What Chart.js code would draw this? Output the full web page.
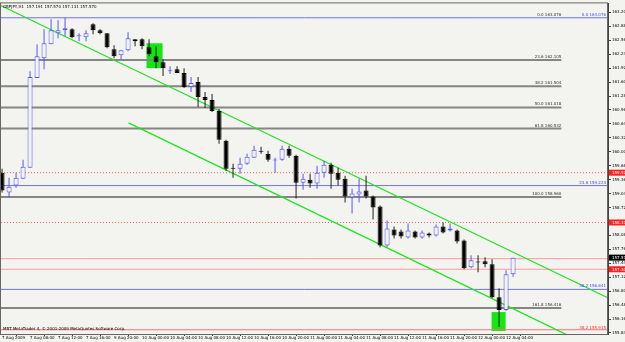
<!DOCTYPE html>
<html>
<head>
<meta charset="utf-8">
<script src="https://cdn.jsdelivr.net/npm/chart.js@4.4.0/dist/chart.umd.min.js"></script>
<style>
  html, body { margin: 0; padding: 0; background: #f3f3ef; }
  canvas { display: block; }
</style>
</head>
<body>
<canvas id="myChart" width="625" height="342"></canvas>
<script>
// GBPJPY H1 candles, one per hour
const opens = [159.520, 159.063, 159.223, 159.383, 159.634, 161.691, 162.149, 162.469, 162.720, 162.789,
  162.811, 162.651, 162.629, 162.926, 162.789, 162.720, 162.354, 162.217, 162.331, 162.583,
  162.583, 162.400, 162.194, 162.057, 161.851, 161.897, 161.806, 161.486, 161.600, 161.257,
  161.189, 160.937, 160.251, 159.634, 159.611, 159.726, 159.863, 160.023, 159.954, 159.800,
  159.817, 160.069, 159.909, 159.291, 159.360, 159.269, 159.520, 159.703, 159.520, 159.383,
  158.949, 159.017, 159.109, 158.971, 158.743, 157.851, 158.217, 158.171, 158.034, 158.171,
  158.034, 158.126, 158.080, 158.286, 158.194, 158.194, 157.966, 157.349, 157.470, 157.486,
  157.417, 156.663, 156.366, 157.191];
const highs = [159.611, 159.406, 159.520, 159.817, 161.851, 162.469, 162.811, 163.040, 163.017, 163.076,
  162.834, 162.720, 162.789, 162.949, 162.811, 162.720, 162.446, 162.331, 162.743, 162.583,
  162.606, 162.583, 162.423, 162.126, 161.966, 161.966, 161.920, 161.714, 161.714, 161.371,
  161.326, 160.983, 160.274, 159.726, 159.863, 159.954, 160.137, 160.114, 160.023, 159.863,
  160.137, 160.137, 159.931, 159.497, 159.497, 159.680, 159.794, 159.749, 159.634, 159.451,
  159.154, 159.383, 159.451, 158.994, 158.766, 158.423, 158.286, 158.217, 158.354, 158.194,
  158.194, 158.149, 158.331, 158.377, 158.354, 158.217, 157.989, 157.623, 157.623, 157.577,
  157.531, 156.869, 157.280, 157.570];
const lows = [159.063, 158.949, 159.177, 159.383, 159.634, 161.691, 161.897, 162.469, 162.606, 162.651,
  162.606, 162.537, 162.537, 162.697, 162.697, 162.377, 162.149, 162.126, 162.309, 162.423,
  162.354, 162.194, 161.920, 161.737, 161.783, 161.806, 161.463, 161.371, 161.029, 161.006,
  160.914, 160.183, 159.566, 159.406, 159.497, 159.703, 159.863, 159.954, 159.771, 159.520,
  159.794, 159.863, 158.926, 159.131, 159.177, 159.154, 159.406, 159.154, 159.223, 158.834,
  158.583, 158.834, 158.926, 158.446, 157.806, 157.806, 158.011, 158.011, 158.011, 158.011,
  158.011, 158.034, 158.057, 158.126, 158.171, 157.897, 157.303, 157.326, 157.234, 157.349,
  156.640, 155.977, 156.343, 157.131];
const closes = [159.109, 159.200, 159.406, 159.657, 161.714, 162.194, 162.491, 162.789, 162.789, 162.834,
  162.629, 162.674, 162.720, 162.789, 162.720, 162.400, 162.194, 162.331, 162.606, 162.537,
  162.423, 162.240, 162.057, 161.920, 161.874, 161.806, 161.486, 161.577, 161.257, 161.189,
  160.937, 160.274, 159.611, 159.611, 159.726, 159.886, 160.046, 160.000, 159.817, 159.817,
  160.069, 159.909, 159.291, 159.383, 159.269, 159.520, 159.703, 159.497, 159.360, 158.971,
  159.040, 159.086, 158.971, 158.720, 157.851, 158.240, 158.080, 158.057, 158.194, 158.034,
  158.149, 158.080, 158.286, 158.149, 158.240, 157.943, 157.326, 157.509, 157.458, 157.417,
  156.663, 156.366, 157.189, 157.570];

const timeTickBars = [0, 4, 8, 12, 16, 20, 24, 28, 32, 36, 40, 44, 48, 52, 56, 60, 64, 68, 72];
const timeLabels = ['7 Aug 2009', '7 Aug 08:00', '7 Aug 12:00', '7 Aug 16:00', '9 Aug 20:00',
  '10 Aug 00:00', '10 Aug 04:00', '10 Aug 08:00', '10 Aug 12:00', '10 Aug 16:00', '10 Aug 20:00',
  '11 Aug 00:00', '11 Aug 04:00', '11 Aug 08:00', '11 Aug 12:00', '11 Aug 16:00', '11 Aug 20:00',
  '12 Aug 00:00', '12 Aug 04:00'];
const priceTicks = [163.200, 162.880, 162.560, 162.240, 161.920, 161.600, 161.280, 160.960,
  160.640, 160.320, 160.000, 159.680, 159.360, 159.040, 158.720, 158.400, 158.080, 157.760,
  157.440, 157.120, 156.800, 156.480, 156.160, 155.840];

// fibonacci levels
const fibNames = ['0.0', '23.6', '38.2', '50.0', '61.8', '100.0', '161.8'];
const fibLevels = [163.076, 162.105, 161.504, 161.018, 160.532, 158.960, 156.416];
const fibEndBar = 79.9;
const blueFibNames = ['0.0', '23.6', '38.2'];
const blueFibLevels = [163.076, 159.224, 156.841];
const redFibName = '38.2';
const redFibLevel = 155.915;

const dottedLevels = [159.520, 158.377];
const pinkLevels = [157.546, 157.303];

// channel lines: [bar, price]
const upperChannel = [[-0.21, 163.36], [86.64, 156.64]];
const lowerChannel = [[18.07, 160.663], [86.64, 155.337]];

// highlighted zones: [fromBar, toBar, topPrice, bottomPrice]
const zones = [[20.64, 22.93, 162.491, 161.920], [69.93, 71.93, 156.320, 155.886]];

const bgColor = '#f3f3ef';
const bullColor = '#5656ff';
const bearColor = '#000000';
const fontFamily = '"DejaVu Sans", sans-serif';
const fontSize = 4;
const xMin = -0.15, xMax = 86.56;

const isBull = opens.map((o, i) => closes[i] >= o);

const flatLine = (price, from, to, color, width, dash) => ({
    type: 'line',
    data: [{ x: from, y: price }, { x: to, y: price }],
    borderColor: color,
    borderWidth: width,
    borderDash: dash || [],
    pointRadius: 0,
    order: 5,
});

const datasets = [
    {
        label: 'bodies',
        data: opens.map((o, i) => ({ x: i, y: [o, closes[i]] })),
        backgroundColor: isBull.map(b => b ? bgColor : bearColor),
        borderColor: isBull.map(b => b ? bullColor : bearColor),
        borderWidth: 1,
        borderSkipped: false,
        maxBarThickness: 5,
        minBarLength: 1,
        grouped: false,
        order: 0,
    },
    {
        label: 'wicks',
        data: lows.map((l, i) => ({ x: i, y: [l, highs[i]] })),
        backgroundColor: isBull.map(b => b ? bullColor : '#202020'),
        borderWidth: 0,
        maxBarThickness: 1,
        grouped: false,
        order: 1,
    },
    {
        type: 'line',
        data: upperChannel.map(p => ({ x: p[0], y: p[1] })),
        borderColor: '#1ee41e', borderWidth: 1.3, pointRadius: 0, order: 3,
    },
    {
        type: 'line',
        data: lowerChannel.map(p => ({ x: p[0], y: p[1] })),
        borderColor: '#1ee41e', borderWidth: 1.3, pointRadius: 0, order: 3,
    },
];
fibLevels.slice(1).forEach(v => datasets.push(flatLine(v, xMin, fibEndBar, '#858585', 2)));
blueFibLevels.forEach(v => datasets.push(flatLine(v, xMin, xMax, '#7070ff', 1)));
datasets.push(flatLine(redFibLevel, xMin, xMax, '#ff7070', 1));
dottedLevels.forEach(v => datasets.push(flatLine(v, xMin, xMax, '#ff6060', 1, [1, 2])));
pinkLevels.forEach(v => datasets.push(flatLine(v, xMin, xMax, '#ff9a9a', 1)));

const overlay = {
    id: 'overlay',
    beforeDraw(chart) {
        const { ctx, width, height } = chart;
        ctx.save();
        ctx.fillStyle = bgColor;
        ctx.fillRect(0, 0, width, height);
        ctx.restore();
    },
    beforeDatasetsDraw(chart) {
        const { ctx, chartArea: a, scales: { x, y } } = chart;
        ctx.save();
        ctx.beginPath();
        ctx.rect(a.left, a.top, a.width, a.height);
        ctx.clip();
        ctx.fillStyle = '#14e614';
        zones.forEach(z => {
            const x0 = x.getPixelForValue(z[0]), x1 = x.getPixelForValue(z[1]);
            const y0 = y.getPixelForValue(z[2]), y1 = y.getPixelForValue(z[3]);
            ctx.fillRect(x0, y0, x1 - x0, y1 - y0);
        });
        ctx.restore();
    },
    afterDraw(chart) {
        const { ctx, chartArea: a, scales: { x, y } } = chart;
        ctx.save();
        ctx.font = fontSize + 'px ' + fontFamily;
        ctx.textBaseline = 'alphabetic';

        // frame
        ctx.strokeStyle = '#666';
        ctx.lineWidth = 1;
        ctx.strokeRect(a.left - 0.5, a.top - 0.5, a.width, a.height + 1);

        // fib labels
        ctx.textAlign = 'right';
        ctx.fillStyle = '#333';
        const fx = x.getPixelForValue(fibEndBar);
        fibLevels.forEach((v, i) => {
            ctx.fillText(fibNames[i] + ' ' + v.toFixed(3), fx, y.getPixelForValue(v) - 2);
        });
        ctx.fillStyle = '#4848ff';
        blueFibLevels.forEach((v, i) => {
            ctx.fillText(blueFibNames[i] + ' ' + v.toFixed(3), a.right - 2, y.getPixelForValue(v) - 2);
        });
        ctx.fillStyle = '#ff3030';
        ctx.fillText(redFibName + ' ' + redFibLevel.toFixed(3), a.right - 2, y.getPixelForValue(redFibLevel) - 1);

        // header and copyright
        ctx.textAlign = 'left';
        ctx.fillStyle = '#000';
        const last = opens.length - 1;
        const head = 'GBPJPY,H1  ' + [opens[last], highs[last], lows[last], closes[last]].map(v => v.toFixed(3)).join(' ');
        ctx.fillText(head, a.left + 2, a.top + 5);
        ctx.fillText('MBT MetaTrader 4, \u00a9 2001-2009 MetaQuotes Software Corp.', a.left + 2, a.bottom - 4);

        // price boxes on the axis
        const box = (v, fill) => {
            const py = y.getPixelForValue(v);
            ctx.fillStyle = fill;
            ctx.fillRect(a.right + 1, py - 3, 20, 6);
            ctx.fillStyle = '#fff';
            ctx.fillText(v.toFixed(3), a.right + 4, py + 1.5);
        };
        dottedLevels.forEach(v => box(v, '#ff2020'));
        box(pinkLevels[1], '#ff2020');
        box(closes[last], '#000');
        ctx.restore();
    },
};

new Chart(document.getElementById('myChart'), {
    type: 'bar',
    data: { datasets },
    options: {
        responsive: false,
        animation: false,
        layout: { padding: { left: 1, top: 2, right: 0, bottom: 0 } },
        plugins: { legend: { display: false }, tooltip: { enabled: false } },
        scales: {
            x: {
                type: 'linear',
                min: xMin,
                max: xMax,
                offset: false,
                afterBuildTicks: s => { s.ticks = timeTickBars.map(v => ({ value: v })); },
                afterFit: s => { s.height = 8; },
                ticks: {
                    autoSkip: false,
                    maxRotation: 0,
                    align: 'start',
                    padding: 0,
                    color: '#000',
                    font: { family: fontFamily, size: fontSize },
                    callback: v => timeLabels[timeTickBars.indexOf(v)],
                },
                grid: { drawOnChartArea: false, tickLength: 2, color: '#444' },
                border: { display: true, color: '#444' },
            },
            y: {
                position: 'right',
                min: 155.817,
                max: 163.406,
                afterBuildTicks: s => { s.ticks = priceTicks.map(v => ({ value: v })); },
                afterFit: s => { s.width = 17; },
                ticks: {
                    padding: 1,
                    color: '#000',
                    font: { family: fontFamily, size: fontSize },
                    callback: v => v.toFixed(3),
                },
                grid: { drawOnChartArea: false, tickLength: 3, color: '#444' },
                border: { display: true, color: '#444' },
            },
        },
    },
    plugins: [overlay],
});
</script>
</body>
</html>
